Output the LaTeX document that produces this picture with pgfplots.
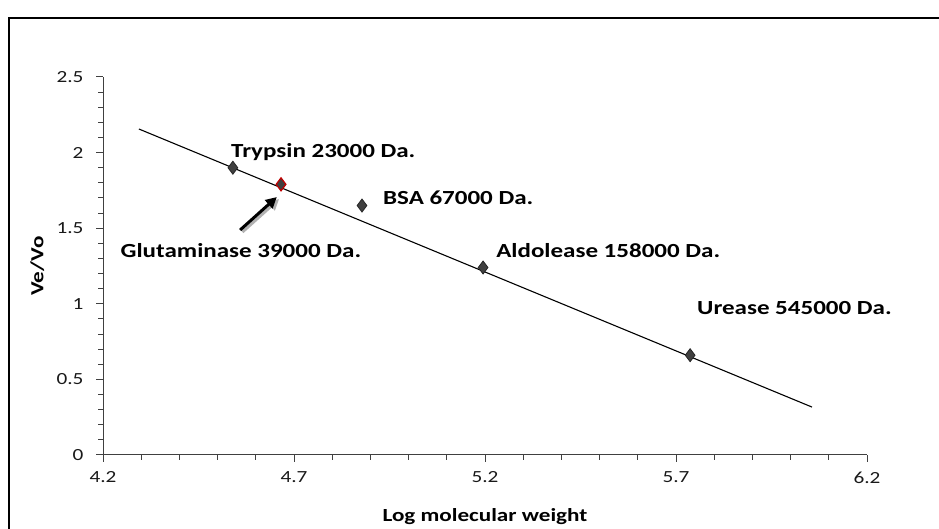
\documentclass[border=0pt]{standalone}
\usepackage{fontspec}
\setmainfont{Carlito}[FakeStretch=1.25]
\usepackage{pgfplots}
\pgfplotsset{compat=1.18}
\usetikzlibrary{arrows.meta}
\definecolor{mk}{HTML}{404040}
\definecolor{mkedge}{HTML}{262626}
\definecolor{glu}{HTML}{C00000}

\begin{document}
\begin{tikzpicture}
\useasboundingbox (0pt,0pt) rectangle (939pt,529pt);
% outer chart frame
\draw[line width=1.3pt] (9pt,0pt) -- (9pt,511pt) -- (940pt,511pt);
\begin{axis}[at={(103pt,74pt)}, anchor=south west,
  scale only axis, width=764pt, height=378pt,
  xmin=4.2, xmax=6.2, ymin=0, ymax=2.5,
  xtick={4.2,4.7,5.2,5.7,6.2}, ytick={0,0.5,1,1.5,2,2.5},
  minor x tick num=4, minor y tick num=4,
  axis x line*=bottom, axis y line*=left,
  axis line style={-, line width=1pt, black!75},
  tick style={line width=1pt, black!75},
  tick align=outside, major tick length=7pt, minor tick length=5pt,
  /pgf/number format/assume math mode=true,
  /pgf/number format/.cd, fixed, precision=1,
  /pgfplots/.cd,
  ticklabel style={font=\fontsize{17}{19}\selectfont, text=black!90},
  xticklabel style={yshift=-6pt},
  yticklabel style={xshift=-9pt},
  xlabel={\textbf{Log molecular weight}},
  ylabel={\textbf{Ve/Vo}},
  label style={font=\fontsize{18.5}{20}\selectfont},
  xlabel style={at={(axis description cs:0.5,-0.164)}, anchor=center},
  ylabel style={at={(axis description cs:-0.086,0.5)}, anchor=center},
  clip=false]
% fitted line
\addplot[black, line width=1.1pt] coordinates {(4.294,2.156) (6.056,0.317)};
% standards
\addplot[only marks, mark=diamond*, mark size=6.5pt,
  mark options={fill=mk, draw=mkedge, line width=0.8pt}] coordinates {
  (4.54,1.90) (4.878,1.65) (5.195,1.24) (5.737,0.66)};
% glutaminase
\addplot[only marks, mark=diamond*, mark size=6.5pt,
  mark options={fill=mk, draw=glu, line width=1.2pt}] coordinates {(4.666,1.79)};
\begin{scope}[font=\bfseries\fontsize{20}{22}\selectfont]
\node[anchor=west, inner sep=0] at (axis cs:4.535,2.004) {Trypsin 23000 Da.};
\node[anchor=west, inner sep=0] at (axis cs:4.933,1.70) {BSA 67000 Da.};
\node[anchor=center, inner sep=0] at (axis cs:4.561,1.349) {Glutaminase 39000 Da.};
\node[anchor=west, inner sep=0] at (axis cs:5.229,1.349) {Aldolease 158000 Da.};
\node[anchor=west, inner sep=0] at (axis cs:5.755,0.972) {Urease 545000 Da.};
\end{scope}
\draw[black!30, line width=3pt, -{Triangle[length=11pt,width=11pt]}]
  (axis cs:4.565,1.475) -- (axis cs:4.661,1.693);
\draw[black, line width=3pt, -{Triangle[length=11pt,width=11pt]}]
  (axis cs:4.559,1.488) -- (axis cs:4.655,1.706);
\end{axis}
\end{tikzpicture}
\end{document}
